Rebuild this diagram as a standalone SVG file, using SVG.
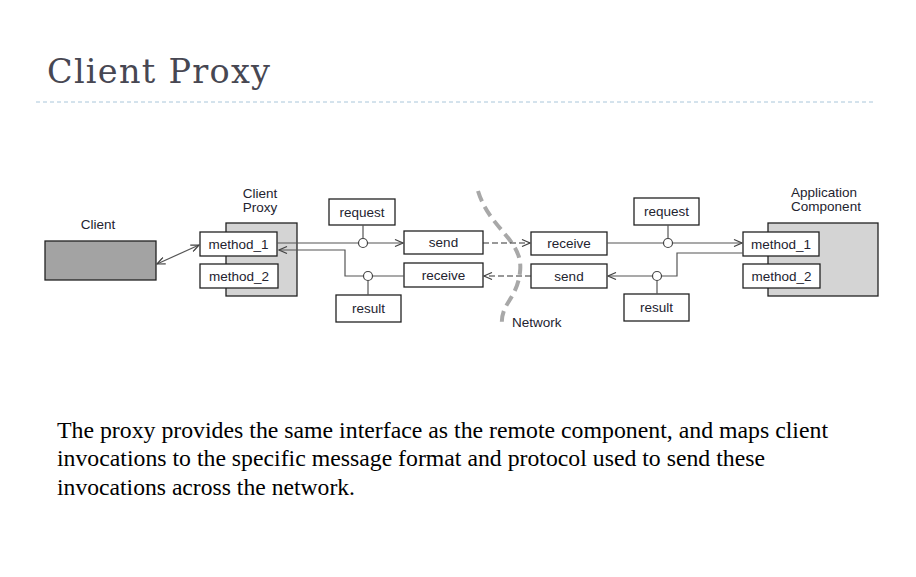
<svg xmlns="http://www.w3.org/2000/svg" width="916" height="577" viewBox="0 0 916 577">
<defs>
<style>
.lbl{font-family:"Liberation Sans",Arial,sans-serif;font-size:13.5px;fill:#23232f;text-anchor:middle}
.box{fill:#fff;stroke:#222;stroke-width:1.3}
.comp{fill:#d4d4d4;stroke:#222;stroke-width:1.3}
.ln{fill:none;stroke:#555;stroke-width:1.2}
.dash{fill:none;stroke:#333;stroke-width:1.1;stroke-dasharray:6 3}
.port{fill:#fff;stroke:#444;stroke-width:1.2}
.body{font-family:"Liberation Serif","Times New Roman",serif;font-size:23.8px;fill:#000}
</style>
<marker id="ah" viewBox="0 0 10 8" refX="9" refY="4" markerWidth="10" markerHeight="8" markerUnits="userSpaceOnUse" orient="auto-start-reverse">
<path d="M1,0.5 L9,4 L1,7.5" fill="none" stroke="#444" stroke-width="1.2"/>
</marker>
</defs>
<rect width="916" height="577" fill="#fff"/>
<text x="47" y="83" font-family="DejaVu Serif,serif" font-size="33.5" fill="#474752" textLength="223" lengthAdjust="spacing">Client Proxy</text>
<line x1="36" y1="102" x2="876" y2="102" stroke="#a9c6da" stroke-width="1" stroke-dasharray="4 3"/>

<g id="client">
<text class="lbl" x="98" y="229">Client</text>
<rect x="45" y="241" width="111" height="39" fill="#a3a3a3" stroke="#222" stroke-width="1.3"/>
</g>

<g id="client-proxy">
<text class="lbl" x="260" y="198">Client</text>
<text class="lbl" x="260" y="212">Proxy</text>
<rect class="comp" x="226" y="223" width="71" height="73"/>
<rect class="box" x="200" y="232" width="77" height="24"/>
<text class="lbl" x="238.5" y="248.5">method_1</text>
<rect class="box" x="200" y="264" width="78" height="24"/>
<text class="lbl" x="239" y="280.5">method_2</text>
</g>

<g id="request-left">
<rect class="box" x="329" y="199" width="66" height="26"/>
<text class="lbl" x="362" y="216.5">request</text>
</g>
<g id="result-left">
<rect class="box" x="336" y="295" width="65" height="27"/>
<text class="lbl" x="368.5" y="313">result</text>
</g>
<g id="send-left">
<rect class="box" x="404" y="231" width="79" height="23"/>
<text class="lbl" x="443.5" y="247">send</text>
</g>
<g id="receive-left">
<rect class="box" x="404" y="263" width="79" height="24"/>
<text class="lbl" x="443.5" y="279.5">receive</text>
</g>

<g id="receive-right">
<rect class="box" x="531" y="232" width="76" height="23"/>
<text class="lbl" x="569" y="248">receive</text>
</g>
<g id="send-right">
<rect class="box" x="531" y="264" width="76" height="24"/>
<text class="lbl" x="569" y="280.5">send</text>
</g>
<g id="request-right">
<rect class="box" x="634" y="198" width="65" height="27"/>
<text class="lbl" x="666.5" y="216">request</text>
</g>
<g id="result-right">
<rect class="box" x="624" y="294" width="65" height="27"/>
<text class="lbl" x="656.5" y="312">result</text>
</g>

<g id="application-component">
<text class="lbl" x="824" y="197">Application</text>
<text class="lbl" x="826" y="211">Component</text>
<rect class="comp" x="768" y="223" width="110" height="73"/>
<rect class="box" x="743" y="232" width="76" height="24"/>
<text class="lbl" x="781" y="248.5">method_1</text>
<rect class="box" x="743" y="264" width="77" height="24"/>
<text class="lbl" x="781.5" y="280.5">method_2</text>
</g>

<g id="network">
<path d="M478,191 C490,230 524,240 520,272 C517,300 500,303 502,326" fill="none" stroke="#a8a8a8" stroke-width="4" stroke-dasharray="11 6"/>
<text x="512" y="327" font-family="Liberation Sans,Arial,sans-serif" font-size="13.5" fill="#23232f">Network</text>
</g>

<g id="connectors">
<line class="ln" x1="157" y1="264" x2="199" y2="245" marker-start="url(#ah)" marker-end="url(#ah)"/>
<line class="ln" x1="277" y1="243" x2="403" y2="243" marker-end="url(#ah)"/>
<polyline class="ln" points="404,276 345,276 345,250 279,250" marker-end="url(#ah)"/>
<line class="ln" x1="363" y1="225" x2="363" y2="238.5"/>
<circle class="port" cx="363" cy="243" r="4.5"/>
<line class="ln" x1="368" y1="280.5" x2="368" y2="295"/>
<circle class="port" cx="368" cy="276" r="4.5"/>
<line class="dash" x1="483" y1="243" x2="530" y2="243" marker-end="url(#ah)"/>
<line class="dash" x1="531" y1="276" x2="484" y2="276" marker-end="url(#ah)"/>
<line class="ln" x1="607" y1="243" x2="742" y2="243" marker-end="url(#ah)"/>
<line class="ln" x1="668" y1="225" x2="668" y2="238.5"/>
<circle class="port" cx="668" cy="243" r="4.5"/>
<polyline class="ln" points="743,253 677,253 677,276 608,276" marker-end="url(#ah)"/>
<line class="ln" x1="657" y1="280.5" x2="657" y2="294"/>
<circle class="port" cx="657" cy="276" r="4.5"/>
</g>

<text class="body" x="57" y="437.5" textLength="771" lengthAdjust="spacingAndGlyphs">The proxy provides the same interface as the remote component, and maps client</text>
<text class="body" x="57" y="466" textLength="708" lengthAdjust="spacingAndGlyphs">invocations to the specific message format and protocol used to send these</text>
<text class="body" x="57" y="494.5" textLength="298" lengthAdjust="spacingAndGlyphs">invocations across the network.</text>
</svg>
